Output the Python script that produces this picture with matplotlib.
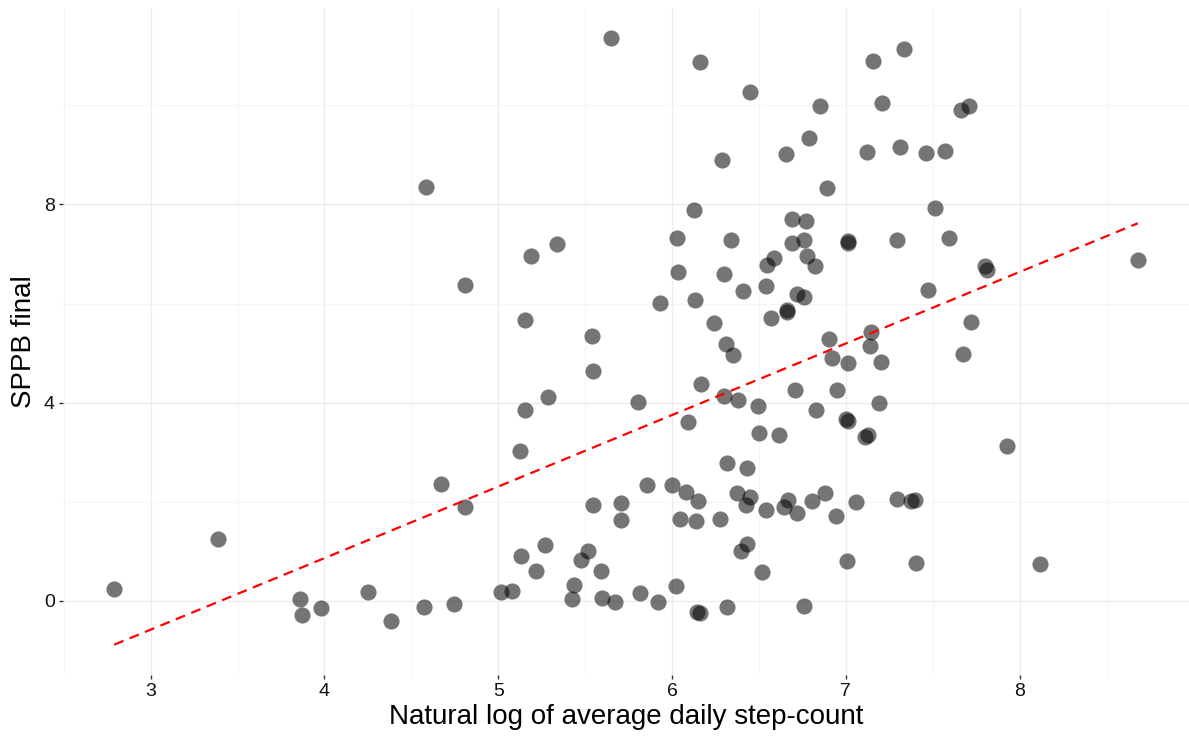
import numpy as np
import matplotlib
matplotlib.use("Agg")
import matplotlib.pyplot as plt
from matplotlib.ticker import MultipleLocator

# data
log_steps = [
    2.79, 3.39, 3.858, 3.87, 3.98, 4.25, 4.384, 4.572, 4.744, 4.587,
    4.673, 4.81, 4.807, 5.014, 5.08, 5.128, 5.215, 5.27, 5.123, 5.153,
    5.285, 5.153, 5.19, 5.338, 5.54, 5.545, 5.545, 5.516, 5.478, 5.593,
    5.437, 5.425, 5.597, 5.674, 5.704, 5.704, 5.65, 5.805, 5.817, 5.855,
    5.918, 5.93, 5.997, 6.021, 6.027, 6.037, 6.048, 6.083, 6.094, 6.125,
    6.13, 6.14, 6.148, 6.146, 6.161, 6.16, 6.167, 6.24, 6.278, 6.29,
    6.30, 6.30, 6.312, 6.348, 6.314, 6.316, 6.337, 6.371, 6.38, 6.396,
    6.41, 6.425, 6.43, 6.432, 6.448, 6.45, 6.496, 6.50, 6.515, 6.54,
    6.54, 6.549, 6.567, 6.588, 6.616, 6.643, 6.668, 6.655, 6.664, 6.664,
    6.69, 6.69, 6.71, 6.72, 6.72, 6.758, 6.758, 6.76, 6.773, 6.775,
    6.79, 6.805, 6.823, 6.83, 6.85, 6.878, 6.892, 6.903, 6.92, 6.947,
    6.945, 7.0, 7.012, 7.008, 7.01, 7.015, 7.012, 7.056, 7.108, 7.13,
    7.123, 7.14, 7.144, 7.154, 7.193, 7.20, 7.207, 7.295, 7.297, 7.31,
    7.336, 7.373, 7.398, 7.402, 7.461, 7.473, 7.513, 7.57, 7.596, 7.66,
    7.676, 7.706, 7.718, 7.80, 7.81, 7.93, 8.118, 8.68,
]
sppb_final = [
    0.24, 1.25, 0.04, -0.29, -0.15, 0.17, -0.41, -0.13, -0.07, 8.36,
    2.36, 1.89, 6.38, 0.17, 0.21, 0.91, 0.61, 1.13, 3.02, 3.86,
    4.11, 5.66, 6.95, 7.21, 5.34, 4.63, 1.94, 1.01, 0.82, 0.60,
    0.33, 0.04, 0.05, -0.03, 1.98, 1.63, 11.35, 4.01, 0.16, 2.33,
    -0.03, 6.01, 2.34, 0.31, 7.33, 6.63, 1.65, 2.20, 3.61, 7.89,
    6.08, 1.62, 2.02, -0.22, -0.25, 10.88, 4.38, 5.60, 1.65, 8.90,
    6.60, 4.13, 5.19, 4.97, 2.78, -0.13, 7.29, 2.17, 4.05, 1.01,
    6.25, 1.93, 2.68, 1.15, 2.09, 10.26, 3.93, 3.38, 0.59, 6.36,
    1.84, 6.78, 5.70, 6.92, 3.35, 1.89, 2.04, 9.01, 5.83, 5.86,
    7.70, 7.22, 4.25, 6.20, 1.77, 6.14, 7.29, -0.11, 7.66, 6.95,
    9.33, 2.01, 6.76, 3.85, 9.99, 2.18, 8.34, 5.28, 4.90, 4.26,
    1.71, 3.68, 3.62, 0.81, 7.27, 7.23, 4.80, 1.99, 3.30, 3.35,
    9.05, 5.15, 5.43, 10.90, 4.0, 4.83, 10.05, 7.28, 2.06, 9.15,
    11.13, 2.01, 2.04, 0.76, 9.04, 6.28, 7.92, 9.08, 7.32, 9.90,
    4.99, 9.98, 5.63, 6.76, 6.67, 3.12, 0.75, 6.88,
]

y_ticks = [0, 4, 8]
x_ticks = [3, 4, 5, 6, 7, 8]

x = np.array(log_steps)
y = np.array(sppb_final)

# garis regresi linear (seperti geom_smooth method = "lm")
slope, intercept = np.polyfit(x, y, 1)
x_line = np.array([x.min(), x.max()])
y_line = intercept + slope * x_line

plt.rcParams["font.family"] = ["Liberation Sans", "DejaVu Sans"]

fig = plt.figure(figsize=(11.89, 7.45), dpi=100)
ax = fig.add_axes([63 / 1189, 1 - 675 / 745, 1 - 63 / 1189, (675 - 8) / 745])

ax.scatter(x, y, s=135, color="black", alpha=0.54, linewidths=0, zorder=3)
ax.plot(x_line, y_line, color="#ff0000", lw=1.6, linestyle=(0, (4.5, 3)), zorder=4)

# batas sumbu dengan ekspansi 5% seperti ggplot
x_pad = 0.05 * (x.max() - x.min())
y_lo = min(y.min(), y_line.min())
y_hi = max(y.max(), y_line.max())
y_pad = 0.05 * (y_hi - y_lo)
ax.set_xlim(x.min() - x_pad, x.max() + x_pad)
ax.set_ylim(y_lo - y_pad, y_hi + y_pad)

ax.set_xticks(x_ticks)
ax.set_yticks(y_ticks)
ax.xaxis.set_minor_locator(MultipleLocator(0.5))
ax.yaxis.set_minor_locator(MultipleLocator(2))
ax.grid(which="major", color="#ececec", lw=1.0)
ax.grid(which="minor", color="#f5f5f5", lw=0.8)
ax.set_axisbelow(True)

for side in ax.spines.values():
    side.set_visible(False)

ax.tick_params(which="major", length=3, width=1, color="#333333",
               labelsize=14, labelcolor="#111111", pad=3)
ax.tick_params(which="minor", length=0)

ax.set_xlabel("Natural log of average daily step-count", fontsize=20, labelpad=3)
ax.set_ylabel("SPPB final", fontsize=20, labelpad=5)

plt.savefig("out.png", dpi=100)
